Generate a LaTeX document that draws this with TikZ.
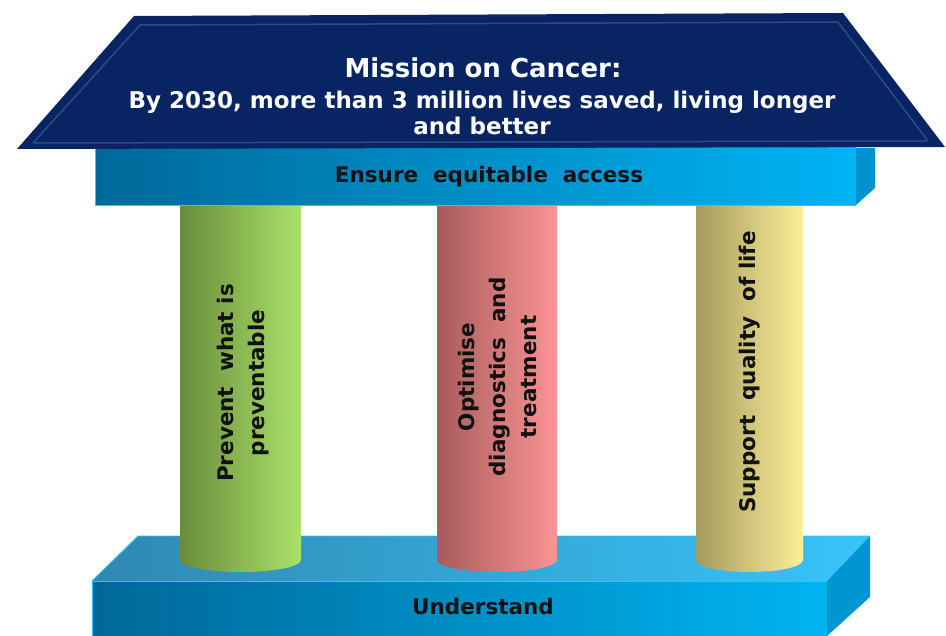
\documentclass[tikz,border=0pt]{standalone}
\usepackage{fontspec}
\setmainfont{DejaVu Sans}
\definecolor{roofblue}{HTML}{082463}
\definecolor{roofline}{HTML}{30498A}
\definecolor{beamL}{HTML}{00699A}
\definecolor{beamR}{HTML}{00B4F5}
\definecolor{beamSide}{HTML}{0092CC}
\definecolor{baseTopL}{HTML}{3088B0}
\definecolor{baseTopR}{HTML}{38C4FA}
\definecolor{baseFrontL}{HTML}{006898}
\definecolor{baseFrontR}{HTML}{00B4F2}
\definecolor{baseSide}{HTML}{0096D2}
\definecolor{edgecyan}{HTML}{2CC6FF}
\definecolor{greenL}{HTML}{6A8C3A}
\definecolor{greenR}{HTML}{A9E26A}
\definecolor{redL}{HTML}{A85B5B}
\definecolor{redR}{HTML}{FB9494}
\definecolor{yelL}{HTML}{A59A5E}
\definecolor{yelR}{HTML}{FEEF98}
\definecolor{darktext}{HTML}{111111}
\tikzset{
  rooftext/.style={text=white, font=\bfseries\fontsize{23}{26}\selectfont, align=center, inner sep=0pt},
  barlabel/.style={text=darktext, font=\bfseries\fontsize{21.5}{24}\selectfont, inner sep=0pt},
  collabel/.style={text=darktext, font=\bfseries\fontsize{21.5}{31}\selectfont, align=center, rotate=90, inner sep=0pt},
  edgeline/.style={draw=edgecyan, line width=0.9pt},
}
\begin{document}
\begin{tikzpicture}[x=1pt,y=-1pt]
\useasboundingbox (0,0) rectangle (946,636);
% base
\path[shade, left color=baseTopL, right color=baseTopR] (138,536) -- (870,536) -- (827,581) -- (92,581) -- cycle;
\path[shade, left color=baseFrontL, right color=baseFrontR] (92,581) rectangle (827,636);
\fill[baseSide] (827,581) -- (870,536) -- (870,597) -- (827,636) -- cycle;
\draw[edgeline] (92,636) -- (92,581) -- (827,581);
\draw[edgeline] (92,581) -- (138,536) -- (870,536);
\node[barlabel] (understand) at (483,606) {Understand};
% columns
\path[shade, left color=greenL, right color=greenR] (180,200) -- (180,560) arc[start angle=180, end angle=0, x radius=60.5, y radius=12] -- (301,200) -- cycle;
\path[shade, left color=redL, right color=redR] (437,200) -- (437,560) arc[start angle=180, end angle=0, x radius=60, y radius=12] -- (557,200) -- cycle;
\path[shade, left color=yelL, right color=yelR] (696,200) -- (696,560) arc[start angle=180, end angle=0, x radius=53.5, y radius=12] -- (803,200) -- cycle;
\node[collabel] (prevent) at (243,383) {Prevent~~what is\\preventable};
\node[collabel] (optimise) at (497,377) {Optimise\\diagnostics~~and\\treatment};
\node[collabel] (support) at (750,372) {Support~~quality~~of life};
% beam
\path[shade, left color=beamL, right color=beamR] (95,148) rectangle (856,205);
\fill[beamSide] (856,148) -- (875,148) -- (875,188) -- (856,205) -- cycle;
\draw[edgeline] (95,148) -- (95,205) -- (856,205);
\node[barlabel] (access) at (489,177) {Ensure~~equitable~~access};
% roof
\fill[roofblue] (134,16) -- (843,13) -- (945,147) -- (17,149) -- cycle;
\draw[roofline, line width=1.5pt, line join=round] (140,25) -- (838,22) -- (928,141) -- (33,143) -- cycle;
\node[rooftext] (mission) at (483,68) {\fontsize{26}{28}\selectfont Mission on Cancer:};
\node[rooftext] (goal) at (482,113) {By 2030, more than 3 million lives saved, living longer\\and better};
\end{tikzpicture}
\end{document}
